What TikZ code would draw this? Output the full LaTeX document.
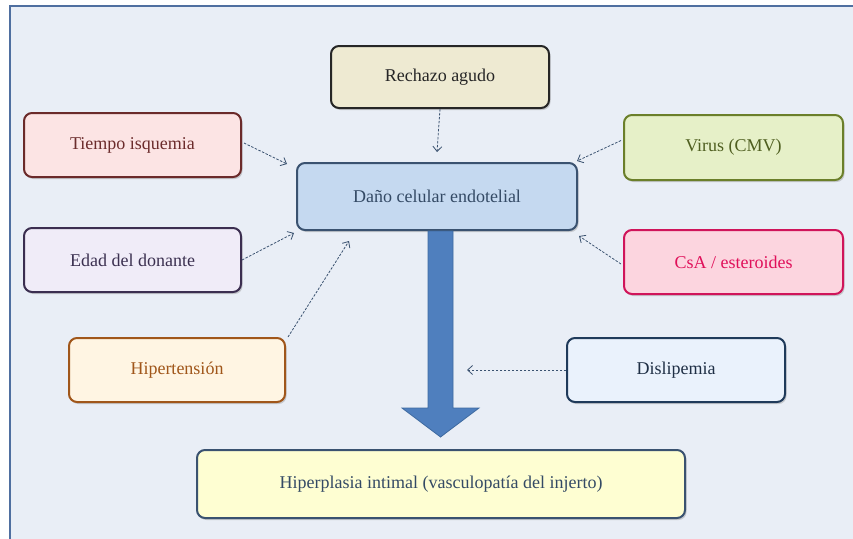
\documentclass[tikz,border=0pt]{standalone}
\usepackage{fontspec}
\setmainfont{Liberation Serif}
\usetikzlibrary{arrows.meta, positioning, shadows}

\definecolor{framebg}{HTML}{E9EEF6}
\definecolor{frameline}{HTML}{4F6FA0}
\definecolor{linkcol}{HTML}{3A5270}
\definecolor{bigarrow}{HTML}{4F7FBE}
\definecolor{bigarrowline}{HTML}{3E6AA0}

\begin{document}
\begin{tikzpicture}[x=1pt, y=-1pt,
    box/.style={draw, rounded corners=8pt, line width=2pt, minimum width=217pt, minimum height=64pt,
        font=\fontsize{18}{20}\selectfont, drop shadow={shadow xshift=1.5pt, shadow yshift=-2pt, opacity=0.35}},
    link/.style={-{Straight Barb[length=5pt, width=9pt]}, linkcol, line width=0.8pt, dash pattern=on 2.5pt off 1.5pt}
]
\useasboundingbox (0,0) rectangle (853,538);

% Background frame
\fill[framebg] (10,6) rectangle (860,545);
\draw[frameline, line width=2pt] (10,545) -- (10,6) -- (860,6);

% Center node
\node[box, minimum width=280pt, minimum height=67pt, fill={rgb,255:red,197;green,217;blue,240}, draw=linkcol, text=linkcol!90!black] (dano) at (437,196.5) {Daño celular endotelial};

% Causes
\node[box, minimum width=218pt, minimum height=62pt, fill={rgb,255:red,238;green,234;blue,210}, draw=black!85, text=black!85] (rech) at (440,77) {Rechazo agudo};
\node[box, fill={rgb,255:red,252;green,228;blue,228}, draw={rgb,255:red,107;green,42;blue,42}, text={rgb,255:red,107;green,44;blue,44}] (tiemp) at (132.5,145) {Tiempo isquemia};
\node[box, fill={rgb,255:red,240;green,236;blue,248}, draw={rgb,255:red,59;green,46;blue,80}, text={rgb,255:red,59;green,48;blue,80}] (edad) at (132.5,260) {Edad del donante};
\node[box, minimum width=216pt, fill={rgb,255:red,255;green,245;blue,227}, draw={rgb,255:red,160;green,86;blue,26}, text={rgb,255:red,160;green,86;blue,26}] (hiper) at (177,370) {Hipertensión};
\node[box, minimum width=219pt, minimum height=65pt, fill={rgb,255:red,230;green,240;blue,200}, draw={rgb,255:red,107;green,127;blue,42}, text={rgb,255:red,79;green,95;blue,32}] (virus) at (733.5,147.5) {Virus (CMV)};
\node[box, minimum width=219pt, fill={rgb,255:red,252;green,213;blue,223}, draw={rgb,255:red,208;green,20;blue,90}, text={rgb,255:red,224;green,16;blue,90}] (csa) at (733.5,262) {CsA / esteroides};
\node[box, minimum width=218pt, fill={rgb,255:red,234;green,242;blue,252}, draw={rgb,255:red,31;green,58;blue,90}, text={rgb,255:red,31;green,47;blue,69}] (disl) at (676,370) {Dislipemia};

% Result
\node[box, minimum width=488pt, minimum height=68pt, fill={rgb,255:red,254;green,254;blue,210}, draw=linkcol, text=linkcol!90!black] (hipl) at (441,484) {Hiperplasia intimal (vasculopatía del injerto)};

% Big arrow
\fill[bigarrow, draw=bigarrowline, line width=0.8pt] ([xshift=-9pt]dano.south) -- ([xshift=16pt]dano.south) -- (453,408) -- (479,408) -- (440.5,437) -- (402,408) -- (428,408) -- cycle;
\coordinate (shaftR) at (467,370);

% Dashed links
\draw[link] (rech.south) -- ([yshift=10pt]dano.north);
\draw[link] ([xshift=2pt, yshift=2pt]tiemp.east) -- ([shift={(-9,2)}]dano.north west);
\draw[link] (edad.east) -- ([shift={(-2,2)}]dano.south west);
\draw[link] ([xshift=2pt]hiper.north east) -- ([shift={(53,10)}]dano.south west);
\draw[link] ([shift={(-2,-7)}]virus.west) -- ([shift={(-1,-1)}]dano.north east);
\draw[link] ([shift={(-2,2)}]csa.west) -- ([shift={(1,5)}]dano.south east);
\draw[link] (disl.west) -- (shaftR);

\end{tikzpicture}
\end{document}
